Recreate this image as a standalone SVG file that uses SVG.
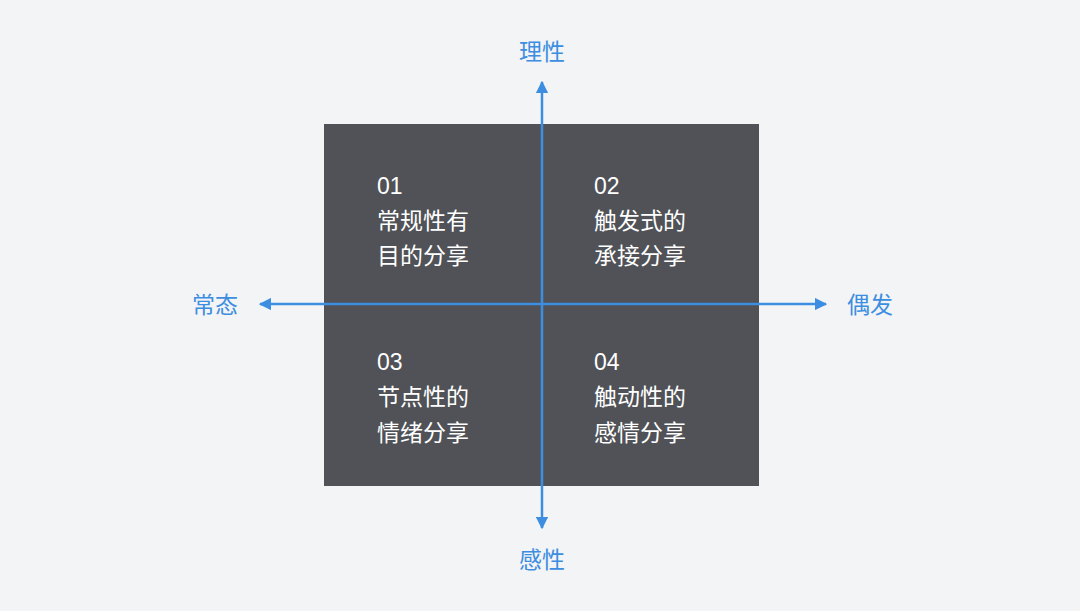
<svg xmlns="http://www.w3.org/2000/svg" width="1080" height="611" viewBox="0 0 1080 611">
<style>
.q{font-family:"Liberation Sans","Noto Sans CJK SC",sans-serif;font-size:23px;fill:#ffffff}
.a{font-family:"Noto Sans CJK SC",sans-serif;font-size:23px;fill:#3d8ee0}
.ax{stroke:#3d8ee0;stroke-width:2.5;fill:none}
</style>
<defs><marker id="m" viewBox="0 0 10 10" refX="9" refY="5" markerWidth="5" markerHeight="5" orient="auto"><path d="M0,0L10,5L0,10z" fill="#3d8ee0"/></marker></defs>
<rect width="1080" height="611" fill="#f3f4f6"/>
<rect x="324" y="124" width="435" height="362" fill="#505257"/>
<g id="connectors">
<line class="ax" x1="542" y1="304" x2="542" y2="82" marker-end="url(#m)"/>
<line class="ax" x1="542" y1="304" x2="542" y2="528" marker-end="url(#m)"/>
<line class="ax" x1="542" y1="304" x2="260" y2="304" marker-end="url(#m)"/>
<line class="ax" x1="542" y1="304" x2="826" y2="304" marker-end="url(#m)"/>
</g>
<g id="q1"><text class="q" x="377" y="194">01</text><text class="q" x="377" y="229">常规性有</text><text class="q" x="377" y="264">目的分享</text></g>
<g id="q2"><text class="q" x="594" y="194">02</text><text class="q" x="594" y="229">触发式的</text><text class="q" x="594" y="264">承接分享</text></g>
<g id="q3"><text class="q" x="377" y="370">03</text><text class="q" x="377" y="405">节点性的</text><text class="q" x="377" y="441">情绪分享</text></g>
<g id="q4"><text class="q" x="594" y="370">04</text><text class="q" x="594" y="405">触动性的</text><text class="q" x="594" y="441">感情分享</text></g>
<g id="top"><text class="a" x="542" y="60" text-anchor="middle">理性</text></g>
<g id="bottom"><text class="a" x="542" y="568" text-anchor="middle">感性</text></g>
<g id="left"><text class="a" x="215" y="313" text-anchor="middle">常态</text></g>
<g id="right"><text class="a" x="870" y="313" text-anchor="middle">偶发</text></g>
</svg>
